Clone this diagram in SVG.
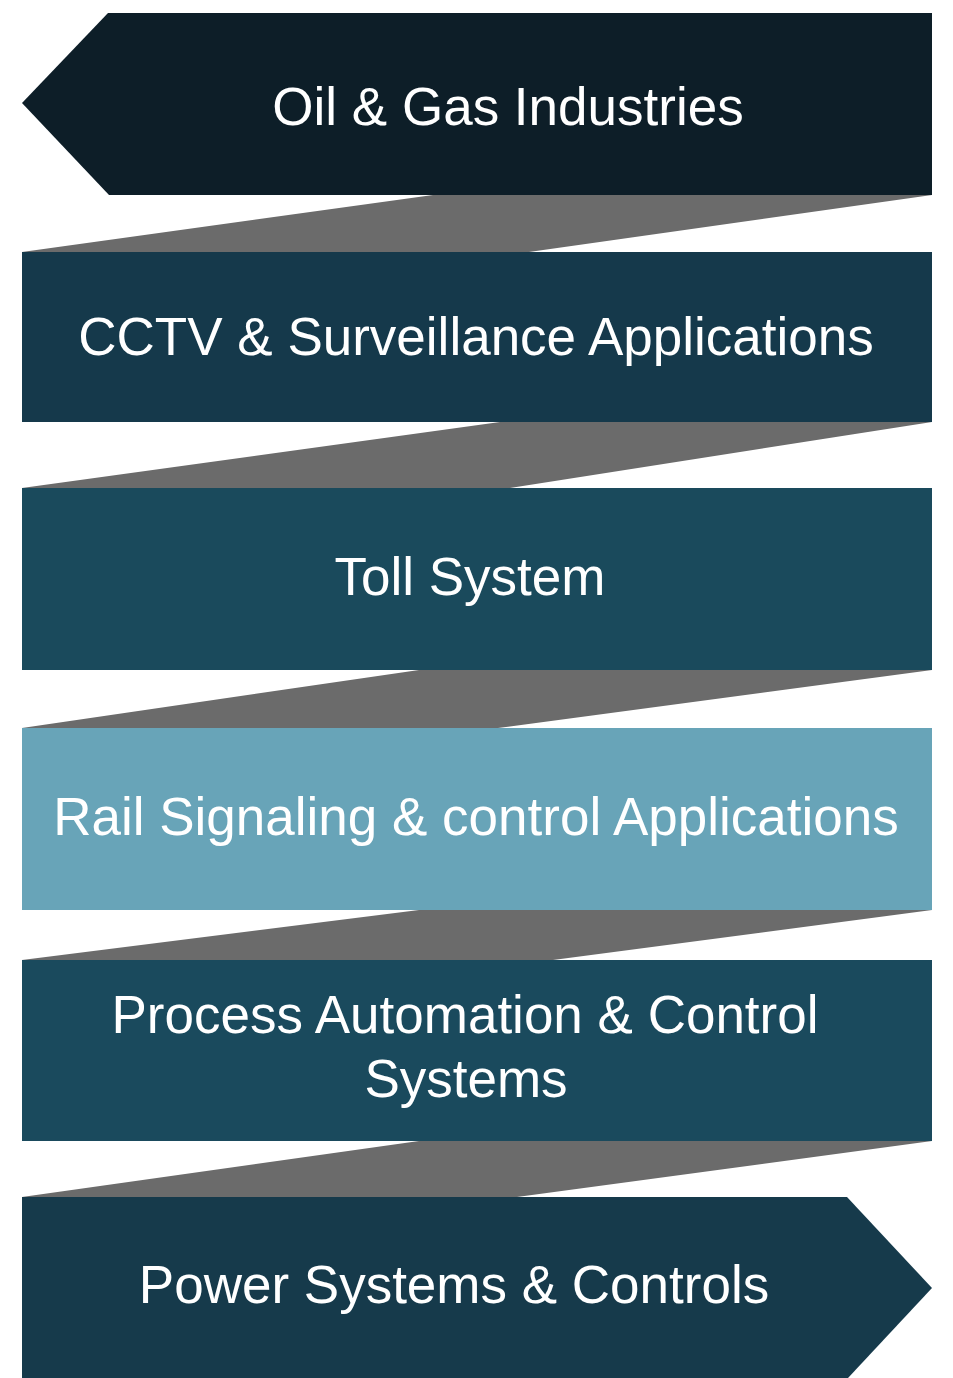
<svg xmlns="http://www.w3.org/2000/svg" width="953" height="1378" viewBox="0 0 953 1378">
<style>
.lbl{font-family:"Liberation Sans",Arial,sans-serif;font-size:53px;fill:#ffffff;text-anchor:middle}
.link{fill:#6b6b6b}
</style>
<rect width="953" height="1378" fill="#ffffff"/>
<g id="connectors">
<polygon class="link" points="433,195 932,195 529,252 22,252"/>
<polygon class="link" points="500,422 932,422 510,488 22,488"/>
<polygon class="link" points="419,670 932,670 498,728 22,728"/>
<polygon class="link" points="419,910 932,910 553,960 22,960"/>
<polygon class="link" points="419,1141 932,1141 517,1197 22,1197"/>
</g>
<g id="oil-gas">
<polygon points="108,13 932,13 932,195 109,195 22,103" fill="#0d1e28"/>
<text class="lbl" x="508" y="125">Oil &amp; Gas Industries</text>
</g>
<g id="cctv">
<rect x="22" y="252" width="910" height="170" fill="#15394b"/>
<text class="lbl" x="476" y="355">CCTV &amp; Surveillance Applications</text>
</g>
<g id="toll">
<rect x="22" y="488" width="910" height="182" fill="#1a4a5c"/>
<text class="lbl" x="470" y="595">Toll System</text>
</g>
<g id="rail">
<rect x="22" y="728" width="910" height="182" fill="#68a4b8"/>
<text class="lbl" x="476" y="835">Rail Signaling &amp; control Applications</text>
</g>
<g id="process">
<rect x="22" y="960" width="910" height="181" fill="#1a4a5d"/>
<text class="lbl" x="465" y="1033">Process Automation &amp; Control</text>
<text class="lbl" x="466" y="1097">Systems</text>
</g>
<g id="power">
<polygon points="22,1197 847,1197 932,1288 848,1378 22,1378" fill="#163a4b"/>
<text class="lbl" x="454" y="1303">Power Systems &amp; Controls</text>
</g>
</svg>
